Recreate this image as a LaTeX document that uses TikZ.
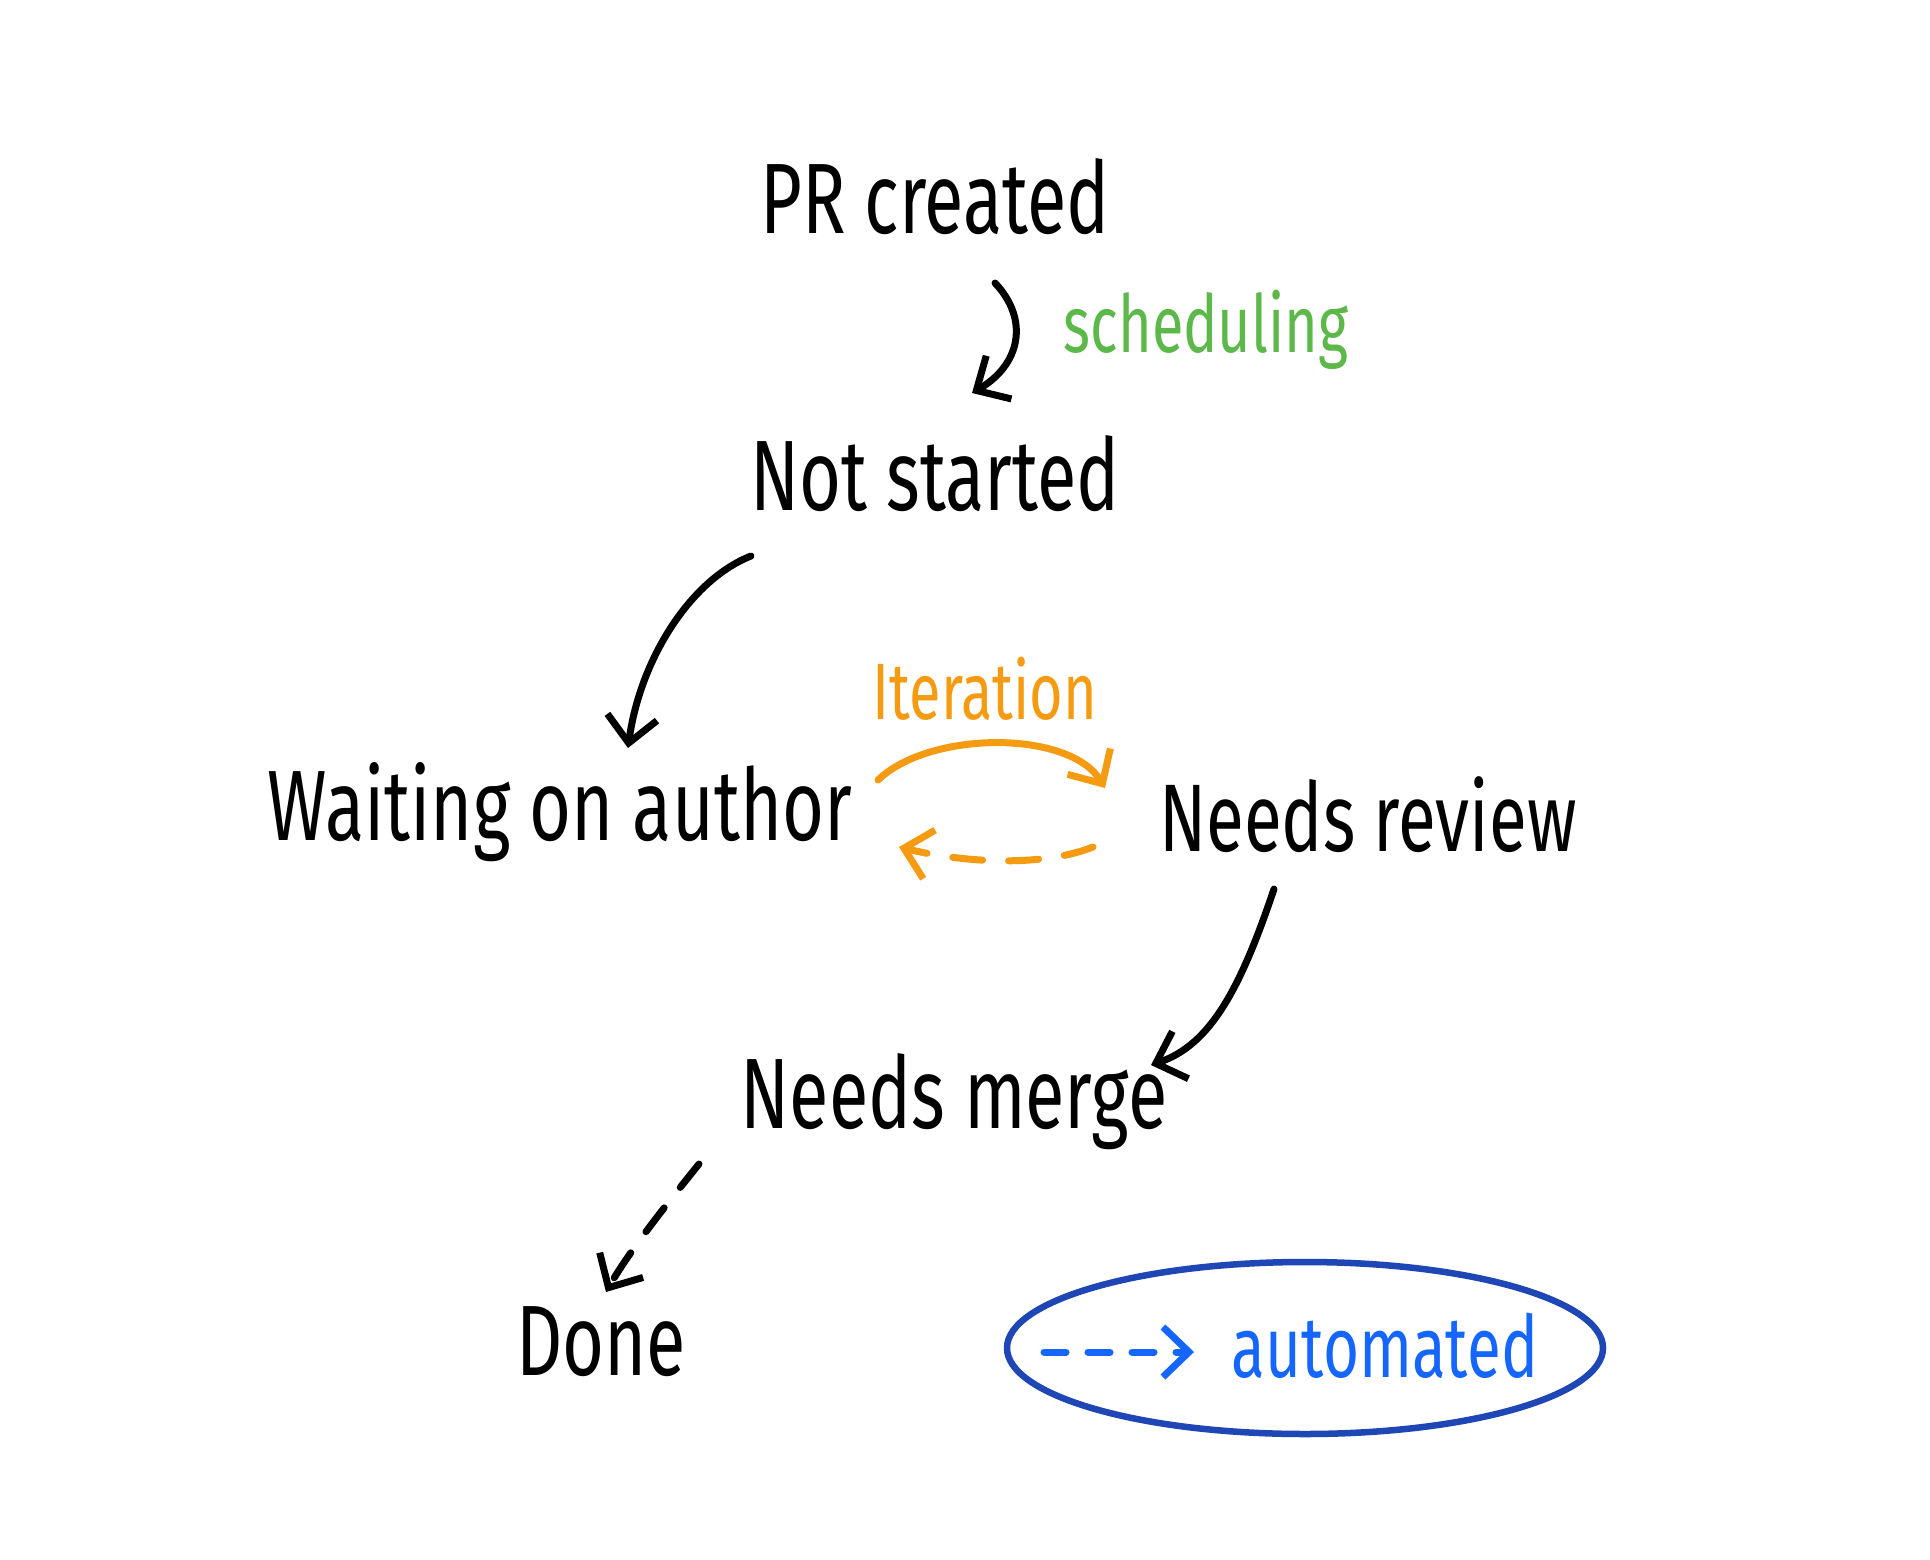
\documentclass[tikz,border=0pt]{standalone}
\usepackage{fontspec}
\setmainfont{Fira Sans}[FakeStretch=0.72]
\usetikzlibrary{arrows.meta}
\definecolor{ink}{HTML}{000000}
\definecolor{grn}{HTML}{5DB84A}
\definecolor{org}{HTML}{F59B12}
\definecolor{dblue}{HTML}{1E46B4}
\definecolor{lblue}{HTML}{1565FF}
\tikzset{
  lbl/.style={inner sep=2pt, font=\fontsize{100}{110}\selectfont},
  smalllbl/.style={inner sep=2pt, font=\fontsize{80}{90}\selectfont},
  conn/.style={line width=7pt, line cap=round, line join=round,
    -{Straight Barb[length=26pt,width=50pt,line width=7pt]}},
  dash5/.style={dash pattern=on 30pt off 26pt}
}
\begin{document}
\begin{tikzpicture}[x=1pt,y=-1pt]
\useasboundingbox (0,0) rectangle (1930,1560);
\fill[white] (0,0) rectangle (1930,1560);

\node[lbl] (pr) at (935,197) {PR created};
\node[lbl] (ns) at (935,474) {Not started};
\node[lbl] (wa) at (560,812) {Waiting on author};
\node[lbl, font=\fontsize{96}{105}\selectfont] (nr) at (1368,815) {Needs review};
\node[lbl] (nm) at (954,1102) {Needs merge};
\node[lbl] (dn) at (601,1342) {Done};

\node[smalllbl, text=grn] (sch) at (1206,330) {scheduling};
\node[smalllbl, text=org] (it) at (985,689) {Iteration};
\node[smalllbl, text=lblue, font=\fontsize{86}{95}\selectfont] (au) at (1385,1346) {automated};

% connector points
\coordinate (s1) at (995,283);
\coordinate (s2) at (972,393);
\coordinate (n1) at (751,556);
\coordinate (n2) at (628,748);
\coordinate (o1) at (878,780);
\coordinate (o2) at (1105,788);
\coordinate (o3) at (1093,847);
\coordinate (o4) at (899,847);
\coordinate (r1) at (1274,889);
\coordinate (r2) at (1151,1065);
\coordinate (m1) at (699,1164);
\coordinate (m2) at (606,1292);
\coordinate (b1) at (1044,1352);
\coordinate (b2) at (1194,1352);

\draw[conn] (s1) .. controls (1030,320) and (1020,365) .. (s2);
\draw[conn] (n1) .. controls (690,580) and (640,660) .. (n2);
\draw[conn, org] (o1) .. controls (930,730) and (1070,730) .. (o2);
\draw[conn, org, dash5] (o3) .. controls (1040,868) and (960,862) .. (o4);
\draw[conn] (r1) .. controls (1240,990) and (1210,1045) .. (r2);
\draw[conn, dash5] (m1) .. controls (670,1200) and (630,1250) .. (m2);
\draw[conn, lblue, dash pattern=on 22pt off 22pt] (b1) -- (b2);

\draw[dblue, line width=6.5pt] (1305,1348) ellipse [x radius=298, y radius=86];
\end{tikzpicture}
\end{document}
